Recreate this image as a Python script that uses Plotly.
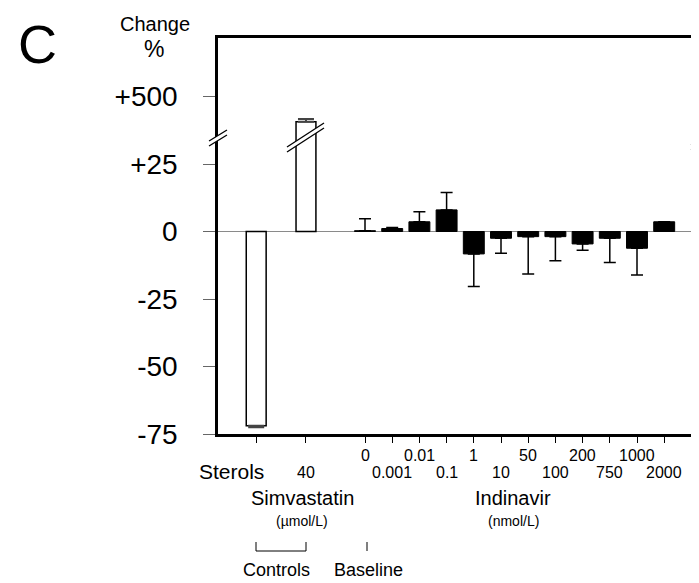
import plotly.graph_objects as go

# ---------------- data ----------------
control_labels = ["Sterols", "40"]
control_values = [-71.9, 323.0]          # % change (second bar lies beyond the axis break)
control_errors = [0.6, 1.0]

indinavir_doses = ["0", "0.001", "0.01", "0.1", "1", "10", "50", "100",
                   "200", "750", "1000", "2000"]
indinavir_values = [0.3, 1.1, 3.6, 8.0, -8.3, -2.5, -1.9, -1.9, -4.6, -2.5, -6.2, 3.6]
indinavir_errors = [4.4, 0.4, 3.7, 6.4, 12.1, 5.6, 13.8, 8.9, 2.3, 9.0, 9.9, 0.0]

y_tick_values = [-75, -50, -25, 0, 25, 500]
y_tick_labels = ["-75", "-50", "-25", "0", "+25", "+500"]

# ---------------- layout constants ----------------
OFF = 8                                   # page body margin of the html page
W, H = 699 - OFF, 583 - OFF
L, R, T, B = 218, 699, 38, 434            # plot-area edges in window pixels
BREAK_LOW, BREAK_HIGH, BREAK_DISPLAY = 25, 500, 50

ctrl_pos = [-4.0, -2.17]
ind_pos = list(range(len(indinavir_doses)))
BAR_W = 0.77
FONT = "Liberation Sans, Arial, sans-serif"


def to_axis(v):
    """Broken y axis: values above +25 are compressed so that +500 sits at 50."""
    if v <= BREAK_LOW:
        return v
    return BREAK_LOW + (v - BREAK_LOW) * (BREAK_DISPLAY - BREAK_LOW) / (BREAK_HIGH - BREAK_LOW)


def px(p):
    return (p - L) / (R - L)


def py(p):
    return (B - p) / (B - T)


def err_split(values, errors):
    up = [e if v >= 0 else 0 for v, e in zip(values, errors)]
    dn = [e if v < 0 else 0 for v, e in zip(values, errors)]
    return up, dn


fig = go.Figure()

cu, cd = err_split(control_values, control_errors)
fig.add_trace(go.Bar(
    x=ctrl_pos, y=[to_axis(v) for v in control_values], width=BAR_W * 0.95,
    marker=dict(color="white", line=dict(color="black", width=1.5)),
    error_y=dict(type="data", symmetric=False, array=cu, arrayminus=cd,
                 color="#444", thickness=2, width=8),
    showlegend=False,
))

iu, idn = err_split(indinavir_values, indinavir_errors)
fig.add_trace(go.Bar(
    x=ind_pos, y=indinavir_values, width=BAR_W,
    marker=dict(color="black", line=dict(color="black", width=1)),
    error_y=dict(type="data", symmetric=False, array=iu, arrayminus=idn,
                 color="black", thickness=1.5, width=6),
    showlegend=False,
))

x_range = [(L - 365) / 27.2, (R - 365) / 27.2]
y_range = [-75, -75 + (B - T) / 2.7]

fig.update_layout(
    width=W, height=H,
    margin=dict(l=L - OFF, r=W - (R - OFF), t=T - OFF, b=H - (B - OFF), pad=0),
    paper_bgcolor="white", plot_bgcolor="white",
    barmode="overlay",
    font=dict(family=FONT, color="black"),
    xaxis=dict(range=x_range, showgrid=False, zeroline=False,
               showline=True, linecolor="black", linewidth=2.5, mirror=True,
               tickvals=ctrl_pos + ind_pos, ticks="outside", ticklen=6,
               tickcolor="black", tickwidth=1.2, showticklabels=False),
    yaxis=dict(range=y_range, showgrid=False,
               zeroline=True, zerolinecolor="#8a8a8a", zerolinewidth=1,
               showline=True, linecolor="black", linewidth=2.5,
               tickvals=[to_axis(v) for v in y_tick_values], ticktext=y_tick_labels,
               ticks="outside", ticklen=12, tickcolor="#666", tickwidth=1.2,
               tickfont=dict(size=28, family=FONT, color="black"),
               ticklabelstandoff=20),
)

ann = []


def add_text(text, x, y, size, xref="paper", xanchor="center"):
    ann.append(dict(text=text, x=x, y=py(y), xref=xref, yref="paper",
                    showarrow=False, xanchor=xanchor, yanchor="middle",
                    borderpad=0,
                    font=dict(size=size, family=FONT, color="black")))


# panel letter and y-axis title
add_text("C", px(37), 44, 54)
add_text("Change", px(155), 24, 20)
add_text("%", px(154), 49, 23)

# dose labels (two staggered rows)
for i, (d, p) in enumerate(zip(indinavir_doses, ind_pos)):
    add_text(d, p, 455 if i % 2 == 0 else 472, 16, xref="x")
add_text(control_labels[0], px(231), 471, 21)
add_text(control_labels[1], ctrl_pos[1], 472, 16, xref="x")

add_text("Simvastatin", px(302), 498, 20)
add_text("(µmol/L)", px(302), 521, 14)
add_text("Indinavir", px(513), 498, 20)
add_text("(nmol/L)", px(513), 521, 14)
add_text("Controls", px(276), 570, 18)
add_text("Baseline", px(368), 570, 18)

fig.update_layout(annotations=ann)

shapes = []


def seg(x0, y0, x1, y1, color="black", width=1.3):
    shapes.append(dict(type="line", xref="paper", yref="paper",
                       x0=px(x0), y0=py(y0), x1=px(x1), y1=py(y1),
                       line=dict(color=color, width=width), layer="above"))


def gap(pts):
    path = "M " + " L ".join(f"{px(a)},{py(b)}" for a, b in pts) + " Z"
    shapes.append(dict(type="path", xref="paper", yref="paper", path=path,
                       fillcolor="white", line=dict(width=0), layer="above"))


# axis break on the left axis
gap([(209, 141), (227, 130), (227, 135), (209, 146)])
seg(209, 141, 227, 130)
seg(209, 146, 227, 135)
# break across the tall simvastatin bar
gap([(287, 147), (324, 123), (324, 128), (287, 152)])
seg(287, 147, 324, 123)
seg(287, 152, 324, 128)
# break on the (cropped) right axis
seg(691, 145, 709, 134)
seg(691, 150, 709, 139)

# Controls bracket and Baseline marker
seg(256, 542, 256, 551, width=1)
seg(306, 542, 306, 551, width=1)
seg(256, 551, 306, 551, width=1)
seg(367, 542, 367, 551, width=1)

fig.update_layout(shapes=shapes)

fig.write_html("out.html")
